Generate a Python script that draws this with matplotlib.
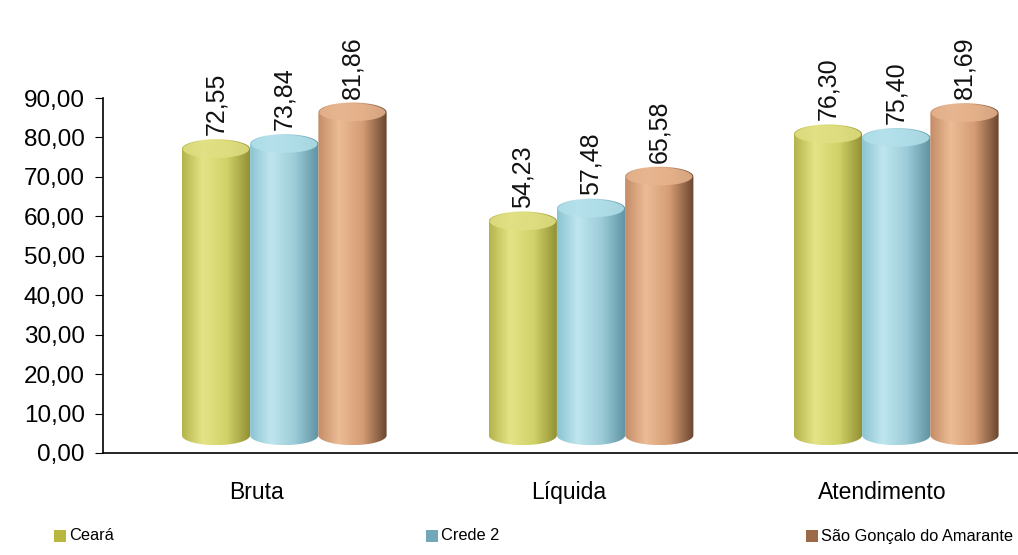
import numpy as np
import matplotlib
matplotlib.use("Agg")
import matplotlib.pyplot as plt
from matplotlib import font_manager
from matplotlib.colors import LinearSegmentedColormap
from matplotlib.path import Path
from matplotlib.patches import PathPatch, Ellipse, Rectangle

plt.rcParams['font.family'] = ['Liberation Sans', 'DejaVu Sans']

categories = ['Bruta', 'Líquida', 'Atendimento']
series = ['Ceará', 'Crede 2', 'São Gonçalo do Amarante']
ceara = [72.55, 54.23, 76.30]
crede2 = [73.84, 57.48, 75.40]
sao_goncalo = [81.86, 65.58, 81.69]
yticks = [0, 10, 20, 30, 40, 50, 60, 70, 80, 90]

values = [ceara, crede2, sao_goncalo]
# dark edge, highlight, mid, dark right edge, cap
shades = [
    ['#b4b44c', '#e4e486', '#d2d26a', '#8f8f32', '#e0e084'],
    ['#8cc4d2', '#bfe6ef', '#9cccd8', '#5e92a2', '#b2e0ea'],
    ['#c48c66', '#ecbc96', '#d49c74', '#6a4630', '#e6b48e'],
]
legend_col = ['#b8b840', '#70a8b8', '#9a6a48']

# the legend in the original uses a condensed face; use one if present
try:
    font_manager.findfont('Liberation Sans Narrow', fallback_to_default=False)
    leg_family = ['Liberation Sans Narrow', 'Liberation Sans']
except Exception:
    leg_family = ['Liberation Sans', 'DejaVu Sans']

fig = plt.figure(figsize=(10.18, 5.55), dpi=100)
ax = fig.add_axes([103/1018, 1-453/555, 1-103/1018, 355/555])

depth = 4.5     # fake 3D lift of the cylinders
eh = 5.0        # ellipse height in data units
w = 0.218
x = np.arange(len(categories))
offs = np.array([0.09, 0.07, 0.045])  # group shift to the right (3D look)

for j, vals in enumerate(values):
    bars = ax.bar(x + offs + (j-1)*w, vals, width=w, bottom=depth, alpha=0)
    cmap = LinearSegmentedColormap.from_list('c%d' % j, list(zip([0, 0.3, 0.65, 1.0], shades[j][:4])))
    for b, v in zip(bars, vals):
        x0, x1 = b.get_x(), b.get_x() + b.get_width()
        y0, y1 = b.get_y(), b.get_y() + b.get_height()
        xc, rx, ry = (x0 + x1)/2, (x1 - x0)/2, eh/2
        t_bot = np.linspace(np.pi, 2*np.pi, 40)
        t_top = np.linspace(0, np.pi, 40)
        verts = [(x0, y1), (x0, y0)]
        verts += list(zip(xc + rx*np.cos(t_bot), y0 + ry*np.sin(t_bot)))
        verts += [(x1, y1)]
        verts += list(zip(xc + rx*np.cos(t_top), y1 + ry*np.sin(t_top)))
        verts += [(x0, y1)]
        codes = [Path.MOVETO] + [Path.LINETO]*(len(verts)-2) + [Path.CLOSEPOLY]
        outline = PathPatch(Path(verts, codes), facecolor='none', edgecolor='none')
        ax.add_patch(outline)
        grad = np.linspace(0, 1, 200).reshape(1, -1)
        im = ax.imshow(grad, cmap=cmap, aspect='auto', extent=(x0, x1, y0-ry, y1+ry),
                       origin='lower', zorder=2)
        im.set_clip_path(outline)
        cap = Ellipse((xc, y1), 2*rx*0.97, 2*ry*0.9, facecolor=shades[j][4],
                      edgecolor='none', alpha=0.85, zorder=3)
        ax.add_patch(cap)
        ax.text(xc, y1 + ry + 1.0, ('%.2f' % v).replace('.', ','), rotation=90,
                ha='center', va='bottom', fontsize=18, color='#111111', clip_on=False)

ax.set_xlim(-0.489, 2.434)
ax.set_ylim(0, 90)
ax.set_yticks(yticks)
ax.set_yticklabels([('%.2f' % v).replace('.', ',') for v in yticks], fontsize=17.5)
ax.set_xticks(x)
ax.set_xticklabels(categories, fontsize=16.5)
ax.tick_params(axis='x', length=0, pad=20)
ax.tick_params(axis='y', length=6, direction='out', pad=7)
for s in ['top', 'right']:
    ax.spines[s].set_visible(False)
ax.spines['left'].set_linewidth(1.2)
ax.spines['bottom'].set_linewidth(1.2)

# legend drawn by hand to match the spread-out entries
leg_x = [54, 426, 806]
leg_y = 1 - 536/555
texts = []
for lx, name, col in zip(leg_x, series, legend_col):
    fig.add_artist(Rectangle((lx/1018, leg_y - 6/555), 12/1018, 12/555,
                             transform=fig.transFigure, facecolor=col, edgecolor='none'))
    texts.append(fig.text((lx + 15)/1018, leg_y, name, fontsize=16.5, va='center',
                          ha='left', family=leg_family))

# shrink legend text so the last entry ends near the right edge like the original
r = fig.canvas.get_renderer()
wid = texts[-1].get_window_extent(r).width
fs = min(16.5, 16.5 * 192 / wid)
for t in texts:
    t.set_fontsize(fs)

fig.savefig('out.png', dpi=100)
